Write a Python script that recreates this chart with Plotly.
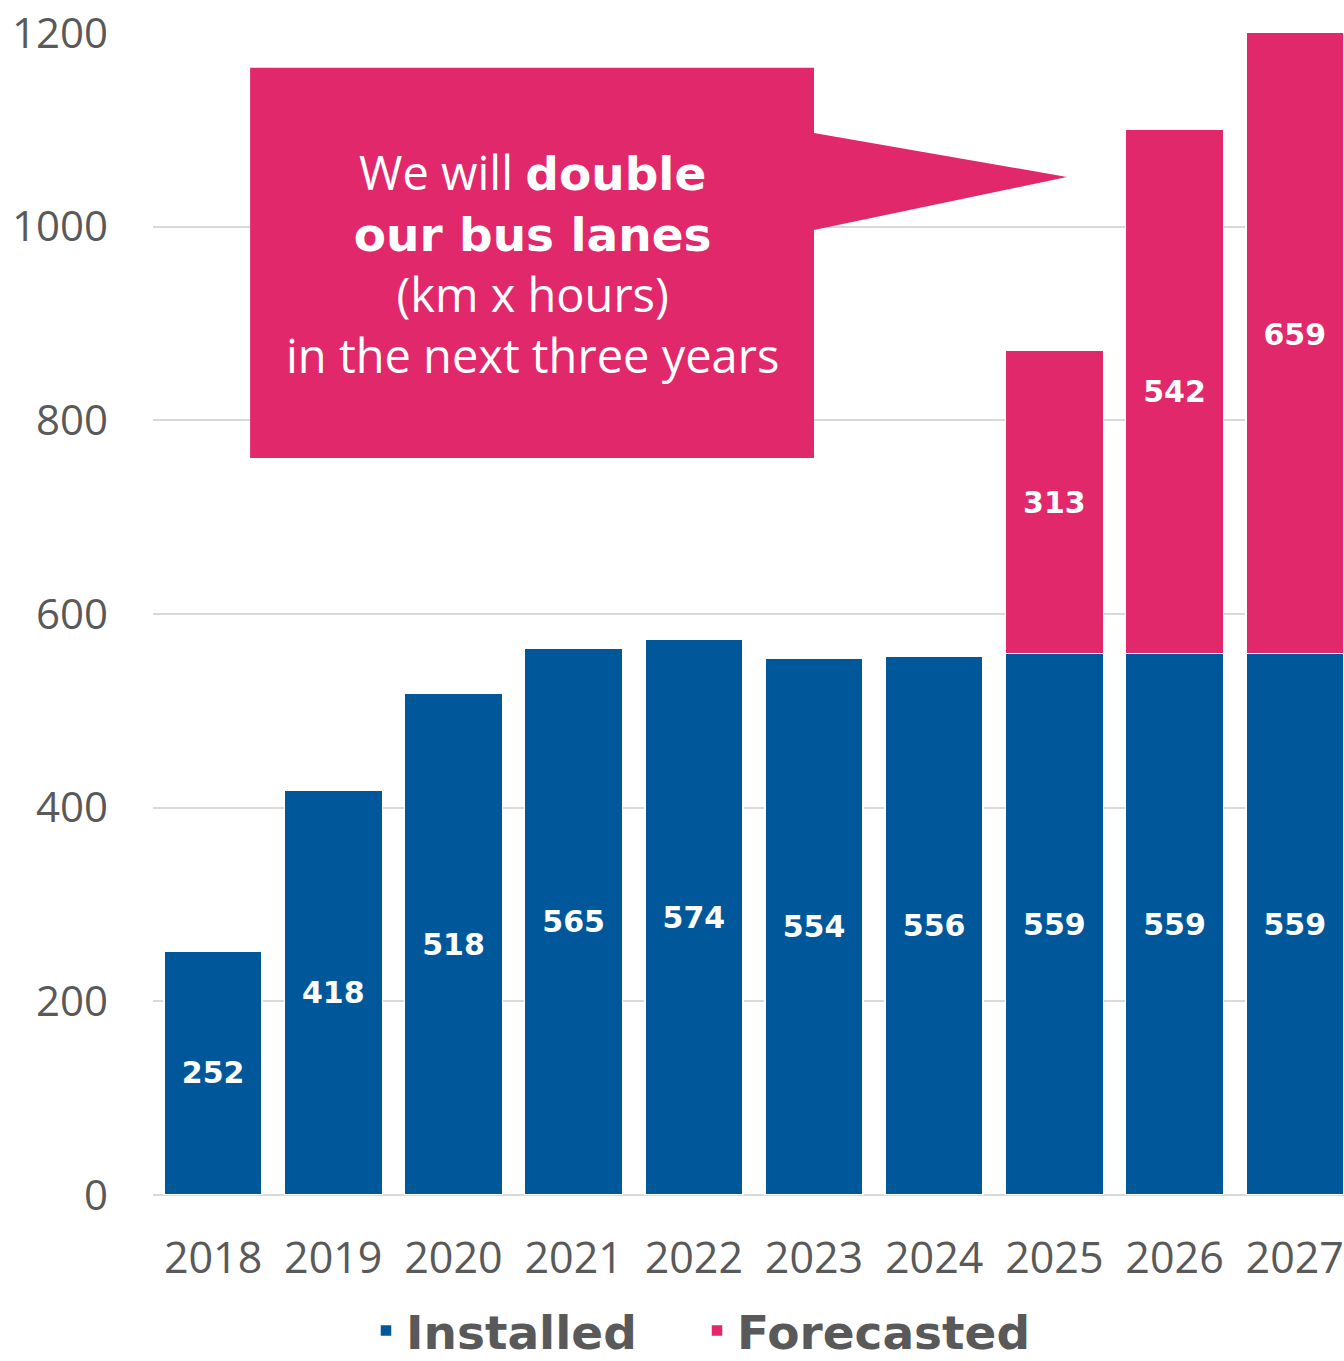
import plotly.graph_objects as go

years = ["2018", "2019", "2020", "2021", "2022", "2023", "2024", "2025", "2026", "2027"]
installed = [252, 418, 518, 565, 574, 554, 556, 559, 559, 559]
forecasted = [None, None, None, None, None, None, None, 313, 542, 659]
y_ticks = [0, 200, 400, 600, 800, 1000, 1200]

BLUE = "#00589A"
PINK = "#E0286A"
GRAY = "#595959"
HEAVY = "DejaVu Sans"

fig = go.Figure()
fig.add_trace(go.Bar(
    x=years, y=installed, name="Installed",
    marker=dict(color=BLUE, line=dict(color="white", width=1.5)),
    text=[str(v) for v in installed], textposition="inside", insidetextanchor="middle",
    textfont=dict(family=HEAVY, size=30, color="white", weight="bold"),
    textangle=0,
))
fig.add_trace(go.Bar(
    x=years, y=forecasted, name="Forecasted",
    marker=dict(color=PINK, line=dict(color="white", width=1.5)),
    text=[("" if v is None else str(v)) for v in forecasted], textposition="inside", insidetextanchor="middle",
    textfont=dict(family=HEAVY, size=30, color="white", weight="bold"),
    textangle=0,
))

# callout box with pointer (data coordinates)
fig.add_shape(
    type="path",
    path="M 0.308 761 L 0.308 1164 L 5.0 1164 L 5.0 1096.8 L 7.105 1051.3 L 5.0 996.6 L 5.0 761 Z",
    xref="x", yref="y", fillcolor=PINK, line=dict(width=0), layer="above",
)
fig.add_annotation(
    x=2.654, y=962, xref="x", yref="y", showarrow=False,
    text=("We will <span style='font-family:DejaVu Sans;font-weight:bold'>double</span><br>"
          "<span style='font-family:DejaVu Sans;font-weight:bold'>our bus lanes</span><br>"
          "(km x hours)<br>in the next three years"),
    font=dict(family="Open Sans", size=47, color="white"),
    align="center",
)

fig.update_layout(
    width=1344, height=1361,
    margin=dict(l=153, r=0, t=33, b=166, autoexpand=False),
    paper_bgcolor="white", plot_bgcolor="white",
    barmode="stack", bargap=0.185,
    font=dict(family="Open Sans", color=GRAY),
    showlegend=True,
    legend=dict(
        orientation="h", traceorder="normal",
        x=366 / 1344, xanchor="left", xref="container",
        y=1 - 1331 / 1361, yanchor="middle", yref="container",
        font=dict(family=HEAVY, size=47, color=GRAY, weight="bold"),
        itemwidth=30, entrywidth=286, entrywidthmode="pixels",
    ),
    xaxis=dict(
        type="category", range=[-0.5, 9.41],
        tickfont=dict(family="Open Sans", size=43, color=GRAY),
        ticklabelstandoff=34, showgrid=False, showline=False, ticks="",
    ),
    yaxis=dict(
        range=[0, 1200], tickvals=y_ticks,
        tickfont=dict(family="Open Sans", size=42, color=GRAY),
        gridcolor="#D9D9D9", gridwidth=2, zeroline=True, zerolinecolor="#D9D9D9", zerolinewidth=2,
        ticklabelstandoff=44, ticks="", showline=False,
    ),
)

fig.write_html("out.html")
